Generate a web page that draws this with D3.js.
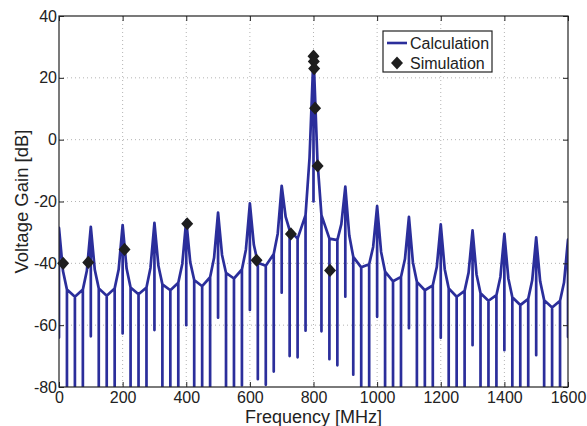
<!DOCTYPE html>
<html>
<head>
<meta charset="utf-8">
<script src="https://cdn.jsdelivr.net/npm/d3@7"></script>
<style>
  body { margin: 0; background: #fff; }
  svg { font-family: "Liberation Sans", Arial, sans-serif; }
</style>
</head>
<body>
<svg id="chart"></svg>
<script>
// calculated gain, one entry per 100 MHz harmonic (0..1600 MHz)
const peakGain = [-28.5, -28.2, -27.6, -26.9, -26, -23.6, -20.6, -14.9, 27.5,
  -15.2, -21.5, -25, -27.4, -29.3, -30.5, -31.6, -32.3];
const peakNull = [-64, -63.6, -62.7, -61.6, -60, -57.6, -55.1, -49.5, -20,
  -50.8, -57.3, -61, -64.1, -66.5, -68.1, -69.7, -63.8];

// per 100 MHz interval: values at +12.5, +25, +50, +75, +87.5 MHz
const fallGain = [-42.5, -42.1, -41.7, -40.8, -39.6, -37.3, -34, -25,
  -7, -31, -36.3, -39.7, -41.9, -43.6, -44.9, -45.8];
const q1Gain = [-48.5, -48.1, -47.8, -46.8, -45.4, -43.1, -39.8, -29.3,
  -24.4, -37.9, -42.7, -46, -48.1, -49.7, -51, -51.9];
const q2Gain = [-50.8, -50.5, -50, -48.7, -47.4, -44.9, -40.8, -32,
  -32, -41.3, -45.8, -48.7, -50.8, -52.1, -53.5, -54.3];
const q3Gain = [-48.5, -48.1, -47.8, -46.3, -44.5, -42, -37, -24.4,
  -32.5, -40.3, -44.4, -47.1, -48.9, -50.3, -51.5, -52.1];
const riseGain = [-42.4, -42, -41.5, -40.2, -38.2, -35.6, -30.4, -6,
  -27.3, -34.7, -38.6, -41.2, -43, -44.4, -45.5, -46.2];

// depth of the notches at +25, +50, +75 MHz
const q1Null = [-90, -90, -90, -90, -90, -90, -77.5, -70, -62, -76, -90, -90, -90, -90, -90, -90];
const q2Null = [-90, -90, -90, -90, -90, -90, -79.3, -70.4, -71, -90, -90, -90, -90, -90, -90, -90];
const q3Null = [-90, -90, -90, -90, -90, -79.5, -75, -61.8, -73, -90, -90, -90, -90, -90, -90, -90];

// simulated points [MHz, dB]
const simFreq = [13, 92, 206, 403, 621, 729, 800, 801, 802, 805, 813, 852];
const simGain = [-40, -39.7, -35.5, -27.2, -39, -30.5, 27, 25.3, 23, 10.2, -8.5, -42.3];

const xTicks = [0, 200, 400, 600, 800, 1000, 1200, 1400, 1600];
const yTicks = [-80, -60, -40, -20, 0, 20, 40];

const width = 587;
const height = 426;
const margins = { left: 59, right: 19, top: 16, bottom: 39 };
const innerW = width - margins.left - margins.right;
const innerH = height - margins.top - margins.bottom;

const calc = [];
for (let k = 0; k < peakGain.length; k++) {
  const f0 = k * 100;
  calc.push([f0, peakGain[k]], [f0, peakNull[k]], [f0, peakGain[k]]);
  if (k < fallGain.length) {
    calc.push([f0 + 12.5, fallGain[k]]);
    calc.push([f0 + 25, q1Gain[k]], [f0 + 25, q1Null[k]], [f0 + 25, q1Gain[k]]);
    calc.push([f0 + 50, q2Gain[k]], [f0 + 50, q2Null[k]], [f0 + 50, q2Gain[k]]);
    calc.push([f0 + 75, q3Gain[k]], [f0 + 75, q3Null[k]], [f0 + 75, q3Gain[k]]);
    calc.push([f0 + 87.5, riseGain[k]]);
  }
}
const sim = simFreq.map((f, i) => [f, simGain[i]]);

const svg = d3.select('#chart')
    .attr('width', width)
    .attr('height', height);

const xScale = d3.scaleLinear().domain([0, 1600]).range([0, innerW]);
const yScale = d3.scaleLinear().domain([-80, 40]).range([innerH, 0]);

const g = svg.append('g')
    .attr('transform', `translate(${margins.left}, ${margins.top})`);

svg.append('defs').append('clipPath')
    .attr('id', 'plotClip')
  .append('rect')
    .attr('width', innerW)
    .attr('height', innerH);

// dotted grid
g.append('g')
  .selectAll('line')
  .data(xTicks.slice(1, -1))
  .join('line')
    .attr('x1', d => xScale(d)).attr('x2', d => xScale(d))
    .attr('y1', 0).attr('y2', innerH)
    .attr('stroke', '#b4b4b4')
    .attr('stroke-dasharray', '1,3');
g.append('g')
  .selectAll('line')
  .data(yTicks.slice(1, -1))
  .join('line')
    .attr('y1', d => yScale(d)).attr('y2', d => yScale(d))
    .attr('x1', 0).attr('x2', innerW)
    .attr('stroke', '#b4b4b4')
    .attr('stroke-dasharray', '1,3');

const line = d3.line()
    .x(d => xScale(d[0]))
    .y(d => yScale(d[1]));

g.append('path')
    .datum(calc)
    .attr('clip-path', 'url(#plotClip)')
    .attr('fill', 'none')
    .attr('stroke', '#2b2e9b')
    .attr('stroke-width', 2.7)
    .attr('stroke-linejoin', 'round')
    .attr('d', line);

const diamond = {
  draw(context, size) {
    const r = Math.sqrt(size) / 2;
    context.moveTo(0, -r * 1.1);
    context.lineTo(r, 0);
    context.lineTo(0, r * 1.1);
    context.lineTo(-r, 0);
    context.closePath();
  }
};
const symbol = d3.symbol().type(diamond).size(144);

g.append('g')
  .selectAll('path')
  .data(sim)
  .join('path')
    .attr('transform', d => `translate(${xScale(d[0])}, ${yScale(d[1])})`)
    .attr('fill', '#1e1e1e')
    .attr('d', symbol);

// axes with inward ticks on all four sides
const styleAxis = sel => {
  sel.select('.domain').remove();
  sel.selectAll('line').attr('stroke', '#222');
  sel.selectAll('text').attr('fill', '#222').style('font-size', '16px');
};
const plain = d => String(d);

g.append('g')
    .attr('transform', `translate(0, ${innerH})`)
    .call(d3.axisBottom(xScale).tickValues(xTicks).tickFormat(plain)
      .tickSizeInner(-5).tickSizeOuter(0).tickPadding(5))
    .call(styleAxis);
g.append('g')
    .call(d3.axisTop(xScale).tickValues(xTicks).tickSizeInner(-5).tickSizeOuter(0).tickFormat(''))
    .call(styleAxis);
g.append('g')
    .call(d3.axisLeft(yScale).tickValues(yTicks).tickFormat(plain)
      .tickSizeInner(-5).tickSizeOuter(0).tickPadding(2))
    .call(styleAxis);
g.append('g')
    .attr('transform', `translate(${innerW}, 0)`)
    .call(d3.axisRight(yScale).tickValues(yTicks).tickSizeInner(-5).tickSizeOuter(0).tickFormat(''))
    .call(styleAxis);

g.append('rect')
    .attr('width', innerW)
    .attr('height', innerH)
    .attr('fill', 'none')
    .attr('stroke', '#222')
    .attr('stroke-width', 1.2);

// axis labels
svg.append('text')
    .attr('x', margins.left + innerW / 2)
    .attr('y', 422.5)
    .attr('text-anchor', 'middle')
    .attr('fill', '#222')
    .style('font-size', '18px')
    .text('Frequency [MHz]');

svg.append('text')
    .attr('transform', `translate(27.5, ${margins.top + innerH / 2}) rotate(-90)`)
    .attr('text-anchor', 'middle')
    .attr('fill', '#222')
    .style('font-size', '18.5px')
    .text('Voltage Gain [dB]');

// legend
const legend = svg.append('g')
    .attr('transform', 'translate(383, 31)');
legend.append('rect')
    .attr('width', 109)
    .attr('height', 41)
    .attr('fill', '#fff')
    .attr('stroke', '#222')
    .attr('stroke-width', 1.2);
legend.append('line')
    .attr('x1', 4).attr('x2', 24)
    .attr('y1', 12).attr('y2', 12)
    .attr('stroke', '#2b2e9b')
    .attr('stroke-width', 2.6);
legend.append('path')
    .attr('transform', 'translate(14, 32)')
    .attr('fill', '#1e1e1e')
    .attr('d', symbol);
legend.append('text')
    .attr('x', 27).attr('y', 18)
    .attr('fill', '#222')
    .style('font-size', '16px')
    .text('Calculation');
legend.append('text')
    .attr('x', 27).attr('y', 37.5)
    .attr('fill', '#222')
    .style('font-size', '16px')
    .text('Simulation');
</script>
</body>
</html>
